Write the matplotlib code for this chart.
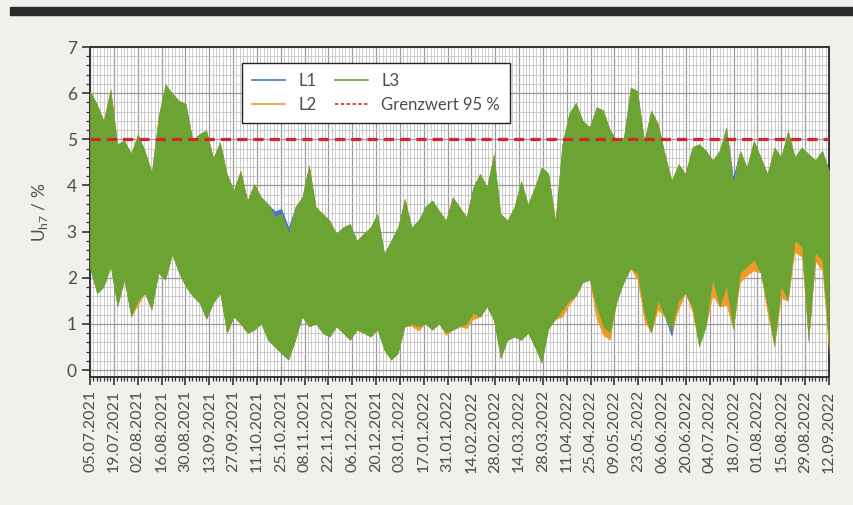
import numpy as np
import pandas as pd
import matplotlib
matplotlib.use("Agg")
import matplotlib.pyplot as plt
import matplotlib.dates as mdates
from matplotlib.lines import Line2D
from matplotlib.patches import Rectangle
from matplotlib.ticker import MultipleLocator, FixedLocator

# envelope of the 10-min values, every 4 days
start_date = "2021-07-05"
end_date = "2022-09-12"

l3_hi = [6.05, 5.77, 5.41, 6.10, 4.90, 4.98, 4.70, 5.12, 4.76, 4.30,
         5.50, 6.20, 6.00, 5.84, 5.77, 4.98, 5.12, 5.20, 4.60, 4.95,
         4.26, 3.90, 4.33, 3.68, 4.04, 3.75, 3.60, 3.32, 3.39, 2.96,
         3.54, 3.75, 4.45, 3.54, 3.39, 3.25, 2.96, 3.10, 3.17, 2.81,
         2.96, 3.10, 3.39, 2.53, 2.81, 3.10, 3.72, 3.10, 3.25, 3.54,
         3.68, 3.46, 3.25, 3.75, 3.54, 3.32, 3.97, 4.26, 3.97, 4.69,
         3.39, 3.25, 3.54, 4.11, 3.60, 3.97, 4.40, 4.26, 3.25, 4.90,
         5.56, 5.80, 5.41, 5.27, 5.70, 5.63, 5.20, 4.98, 5.05, 6.13,
         6.05, 4.98, 5.63, 5.34, 4.69, 4.11, 4.47, 4.26, 4.83, 4.90,
         4.76, 4.55, 4.76, 5.27, 4.04, 4.76, 4.40, 4.98, 4.62, 4.26,
         4.83, 4.62, 5.20, 4.62, 4.83, 4.69, 4.55, 4.76, 4.33]

l3_lo = [2.20, 1.66, 1.80, 2.24, 1.37, 1.95, 1.15, 1.50, 1.66, 1.30,
         2.10, 1.95, 2.50, 2.10, 1.80, 1.60, 1.45, 1.10, 1.45, 1.66,
         0.80, 1.15, 1.00, 0.80, 0.87, 1.00, 0.65, 0.50, 0.36, 0.22,
         0.65, 1.15, 0.94, 1.00, 0.80, 0.72, 0.94, 0.80, 0.65, 0.87,
         0.80, 0.72, 0.87, 0.43, 0.22, 0.36, 0.94, 1.00, 0.94, 1.00,
         0.87, 1.00, 0.80, 0.87, 0.94, 1.00, 1.23, 1.15, 1.37, 1.08,
         0.25, 0.65, 0.72, 0.65, 0.80, 0.50, 0.15, 0.90, 1.10, 1.30,
         1.50, 1.60, 1.90, 1.95, 1.37, 0.94, 0.80, 1.50, 1.90, 2.20,
         2.10, 1.23, 0.80, 1.50, 1.15, 0.87, 1.50, 1.66, 1.37, 0.50,
         0.94, 1.95, 1.37, 1.80, 0.87, 2.10, 2.24, 2.38, 2.10, 1.37,
         0.50, 1.80, 1.50, 2.80, 2.67, 0.60, 2.53, 2.38, 0.45]

# places where L2 (orange) reaches below L3
l2_dip_idx = [7, 47, 48, 52, 55, 56, 69, 70, 74, 75, 76, 80, 81, 83, 86, 88,
              91, 93, 95, 96, 97, 99, 101, 103, 104, 106, 107, 108]
l2_dip_val = [1.40, 0.95, 0.85, 0.75, 0.90, 1.10, 1.15, 1.40, 1.10, 0.75,
              0.65, 1.95, 1.05, 1.30, 1.30, 1.25, 1.60, 1.40, 1.90, 2.05,
              2.15, 1.20, 1.55, 2.55, 2.45, 2.35, 2.15, 0.30]

# places where L1 (blue) sticks out of L3
l1_peak_idx = [27, 28, 29, 94]
l1_peak_val = [3.45, 3.50, 3.10, 4.20]
l1_dip_idx = [85, 96, 106]
l1_dip_val = [0.72, 2.05, 2.35]

grenzwert = 5.0

dates = pd.date_range(start_date, end_date, periods=len(l3_hi))
major_days = pd.date_range(start_date, end_date, freq="14D")
minor_days = pd.date_range(start_date, end_date, freq="2D")

l2_lo = list(l3_lo)
for i, v in zip(l2_dip_idx, l2_dip_val):
    l2_lo[i] = v
l1_hi = list(l3_hi)
for i, v in zip(l1_peak_idx, l1_peak_val):
    l1_hi[i] = v
l1_lo = list(l3_lo)
for i, v in zip(l1_dip_idx, l1_dip_val):
    l1_lo[i] = v

c_l1 = "#4a74c4"
c_l2 = "#f09a2a"
c_l3 = "#6ca434"
c_red = "#d3262a"
c_text = "#4d4d4d"

plt.rcParams["font.family"] = ["Lato", "DejaVu Sans"]

fig = plt.figure(figsize=(8.54, 5.05), dpi=100)
fig.patch.set_facecolor("#f1f0ec")
# dark bar at the top of the page
fig.patches.append(Rectangle((10 / 854, 1 - 15 / 505), 1, 8 / 505,
                             transform=fig.transFigure, color="#2b2b2b", zorder=0))

ax = fig.add_axes([90 / 854, 1 - 377 / 505, 739 / 854, 330 / 505])
ax.set_facecolor("white")

ax.fill_between(dates, l1_lo, l1_hi, color=c_l1, lw=0, zorder=2)
ax.fill_between(dates, l2_lo, l3_hi, color=c_l2, lw=0, zorder=3)
ax.fill_between(dates, l3_lo, l3_hi, color=c_l3, lw=0, zorder=4)
ax.axhline(grenzwert, color=c_red, lw=2.3, ls=(0, (3.2, 1.9)), zorder=5)

ax.set_xlim(pd.Timestamp(start_date), pd.Timestamp(end_date))
ax.set_ylim(-0.15, 7)

ax.xaxis.set_major_locator(FixedLocator(mdates.date2num(major_days)))
ax.xaxis.set_minor_locator(FixedLocator(mdates.date2num(minor_days)))
ax.xaxis.set_major_formatter(mdates.DateFormatter("%d.%m.%Y"))
ax.yaxis.set_major_locator(MultipleLocator(1))
ax.yaxis.set_minor_locator(MultipleLocator(0.2))

ax.grid(which="major", color="#9a9a9a", lw=0.9, zorder=0)
ax.grid(which="minor", color="#c4c4c4", lw=0.6, zorder=0)
ax.set_axisbelow(True)

ax.tick_params(axis="x", which="major", rotation=90, labelsize=11.5,
               colors="#333333", labelcolor=c_text, length=6, width=1.2)
ax.tick_params(axis="y", which="major", labelsize=12.5,
               colors="#333333", labelcolor=c_text, length=6, width=1.2)
ax.tick_params(which="minor", colors="#333333", length=3, width=0.9)
for s in ax.spines.values():
    s.set_color("#333333")
    s.set_linewidth(1.4)

ax.set_ylabel(r"U$_\mathregular{h7}$ / %", fontsize=12.5, color=c_text, labelpad=12)

handles = [Line2D([], [], color=c_l1, lw=1.2),
           Line2D([], [], color=c_l2, lw=1.2),
           Line2D([], [], color=c_l3, lw=1.2),
           Line2D([], [], color=c_red, lw=1.2, ls=(0, (2, 1.5)))]
leg = ax.legend(handles, ["L1", "L2", "L3", "Grenzwert 95 %"], ncol=2,
                loc="upper left", bbox_to_anchor=(0.194, 0.976), fontsize=12,
                frameon=True, fancybox=False, framealpha=1, edgecolor="#222222",
                handlelength=2.0, columnspacing=1.1, labelspacing=0.45,
                borderpad=0.6, labelcolor=c_text)
leg.get_frame().set_linewidth(1.0)
leg.set_zorder(10)

fig.savefig("out.png", dpi=100, facecolor=fig.get_facecolor())
